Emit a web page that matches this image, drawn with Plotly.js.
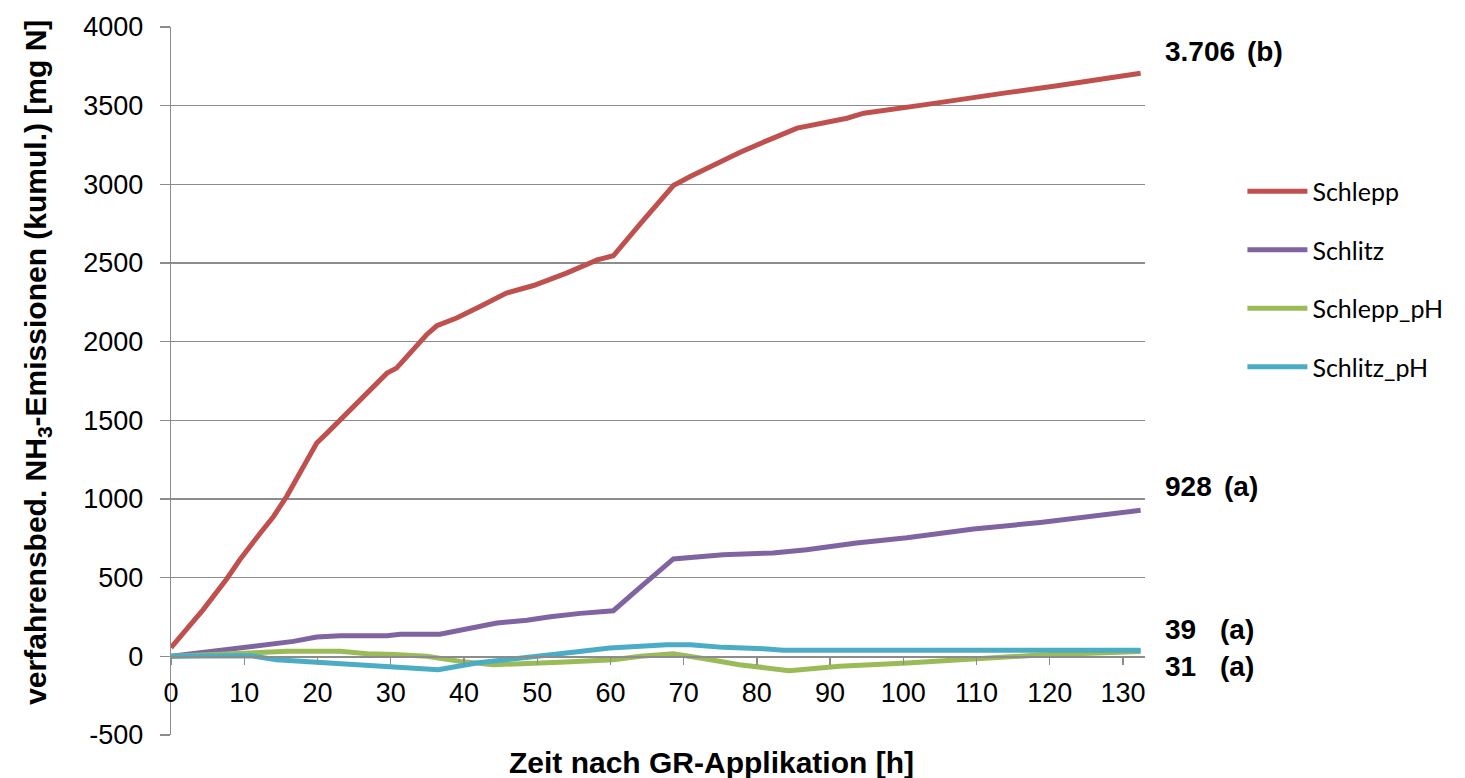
<!DOCTYPE html>
<html>
<head>
<meta charset="utf-8">
<script src="https://cdn.plot.ly/plotly-3.0.1.min.js"></script>
<style>
html,body{margin:0;padding:0;background:#fff;}
#chart{width:1465px;height:778px;}
</style>
</head>
<body>
<div id="chart"></div>
<script>
// ---- data ----
const seriesNames = ["Schlepp", "Schlitz", "Schlepp_pH", "Schlitz_pH"];

const hoursSchlepp = [0, 4.4, 7.6, 9.4, 12.2, 14, 15.8, 18.1, 19.9, 21.3, 23.1, 25.8, 29.5, 30.8, 34.9, 36.3, 39, 42.2, 45.8, 49.5, 54, 58.2, 60.4, 64.1, 66.8, 68.6, 70.9, 74.1, 77.8, 81.4, 85.5, 92.3, 94.6, 102.8, 109.6, 114.2, 121, 125.5, 132.4];
const schlepp = [55, 297, 492, 614, 784, 889, 1017, 1207, 1356, 1419, 1504, 1636, 1800, 1832, 2044, 2101, 2150, 2224, 2309, 2357, 2436, 2520, 2546, 2750, 2890, 2992, 3050, 3124, 3205, 3278, 3357, 3420, 3452, 3505, 3554, 3583, 3626, 3658, 3706];

const hoursSchlitz = [0, 9.4, 13.1, 16.7, 19.9, 23.1, 29.5, 31.3, 36.7, 44.5, 48.6, 51.8, 55.9, 60.4, 64.1, 68.6, 75.4, 82.2, 86.8, 93.6, 100.5, 109.6, 118.7, 127.8, 132.4];
const schlitz = [0, 53, 70, 95, 123, 131, 131, 140, 140, 212, 229, 252, 273, 290, 440, 619, 646, 657, 678, 720, 754, 809, 851, 902, 928];

const hoursSchleppPH = [0, 10, 15.8, 23.1, 26.8, 30.4, 34.9, 39.5, 44, 53.1, 60.4, 64.1, 68.6, 73.1, 77.6, 84.4, 91.3, 100.5, 109.6, 118.7, 132.4];
const schleppPH = [0, 17, 32, 32, 17, 11, 0, -32, -53, -38, -21, 0, 17, -17, -53, -91, -63, -42, -17, 9, 31];

const hoursSchlitzPH = [0, 10.8, 14.4, 19.9, 25.8, 30.4, 36.5, 41.7, 48.6, 53.1, 59.9, 64.1, 67.7, 70.9, 75.4, 81.4, 83.6, 132.4];
const schlitzPH = [0, 4, -21, -38, -59, -68, -85, -42, -10, 17, 53, 64, 74, 74, 57, 47, 39, 39];

const xTicks = [0, 10, 20, 30, 40, 50, 60, 70, 80, 90, 100, 110, 120, 130];
const yTicks = [-500, 0, 500, 1000, 1500, 2000, 2500, 3000, 3500, 4000];

const endValues = ["3.706", "928", "39", "31"];
const endLetters = ["(b)", "(a)", "(a)", "(a)"];

const xTitle = "Zeit nach GR-Applikation [h]";
const yTitle = "verfahrensbed. NH<sub>3</sub>-Emissionen (kumul.) [mg N]";

// ---- styling ----
const colors = ["#C0504D", "#8064A2", "#9BBB59", "#4BACC6"];
const xs = [hoursSchlepp, hoursSchlitz, hoursSchleppPH, hoursSchlitzPH];
const ys = [schlepp, schlitz, schleppPH, schlitzPH];

const traces = seriesNames.map((n, i) => ({
  type: "scatter",
  mode: "lines",
  name: n,
  x: xs[i],
  y: ys[i],
  line: {color: colors[i], width: 5},
  legendgroup: n,
  hoverinfo: "skip"
}));

const font = "Liberation Sans, Arial, sans-serif";
const grid = "#8c8c8c";

// label positions (paper coords)
const labelY = [0.965, 0.351, 0.149, 0.097];
const labelX = [1.0185, 1.0185, 1.0185, 1.0185];
const letterX = [1.1027, 1.079, 1.075, 1.075];

const annotations = [];
endValues.forEach((v, i) => {
  annotations.push({xref: "paper", yref: "paper", x: labelX[i], y: labelY[i], xanchor: "left", yanchor: "middle",
    text: "<b>" + v + "</b>", showarrow: false, font: {family: font, size: 28, color: "#000"}});
  annotations.push({xref: "paper", yref: "paper", x: letterX[i], y: labelY[i], xanchor: "left", yanchor: "middle",
    text: "<b>" + endLetters[i] + "</b>", showarrow: false, font: {family: font, size: 28, color: "#000"}});
});
annotations.push({xref: "paper", yref: "paper", x: 0.555, y: -0.039, xanchor: "center", yanchor: "middle",
  text: "<b>" + xTitle + "</b>", showarrow: false, font: {family: font, size: 30, color: "#000"}});
annotations.push({xref: "paper", yref: "paper", x: -0.1366, y: 0.527, xanchor: "center", yanchor: "middle",
  textangle: -90, text: "<b>" + yTitle + "</b>", showarrow: false, font: {family: font, size: 30, color: "#000"}});

const layout = {
  width: 1465,
  height: 778,
  margin: {l: 171, r: 320, t: 27, b: 43},
  paper_bgcolor: "#fff",
  plot_bgcolor: "#fff",
  showlegend: true,
  legend: {
    x: 1.1, y: 0.8, xanchor: "left", yanchor: "top",
    font: {family: "Lato, Open Sans, sans-serif", size: 25, color: "#000"},
    tracegroupgap: 23,
    itemwidth: 60,
    bgcolor: "rgba(0,0,0,0)"
  },
  xaxis: {
    range: [0, 133],
    tickvals: xTicks,
    ticktext: xTicks.map(String),
    anchor: "free",
    position: (735.4 - 656.7) / 708.1,
    showline: true, linecolor: grid, linewidth: 1.3,
    ticks: "outside", ticklen: 7, tickcolor: grid, tickwidth: 1.3,
    showgrid: false, zeroline: false,
    tickfont: {family: font, size: 27, color: "#000"},
    ticklabelstandoff: 5
  },
  yaxis: {
    range: [-500, 4000],
    tickvals: yTicks,
    ticktext: yTicks.map(String),
    showline: true, linecolor: grid, linewidth: 1.3,
    ticks: "outside", ticklen: 10, tickcolor: grid, tickwidth: 1.3,
    showgrid: true, gridcolor: grid, gridwidth: 1.3,
    zeroline: false,
    tickfont: {family: font, size: 27, color: "#000"},
    ticklabelstandoff: 11
  },
  annotations: annotations
};

Plotly.newPlot("chart", traces, layout, {staticPlot: true});
</script>
</body>
</html>
